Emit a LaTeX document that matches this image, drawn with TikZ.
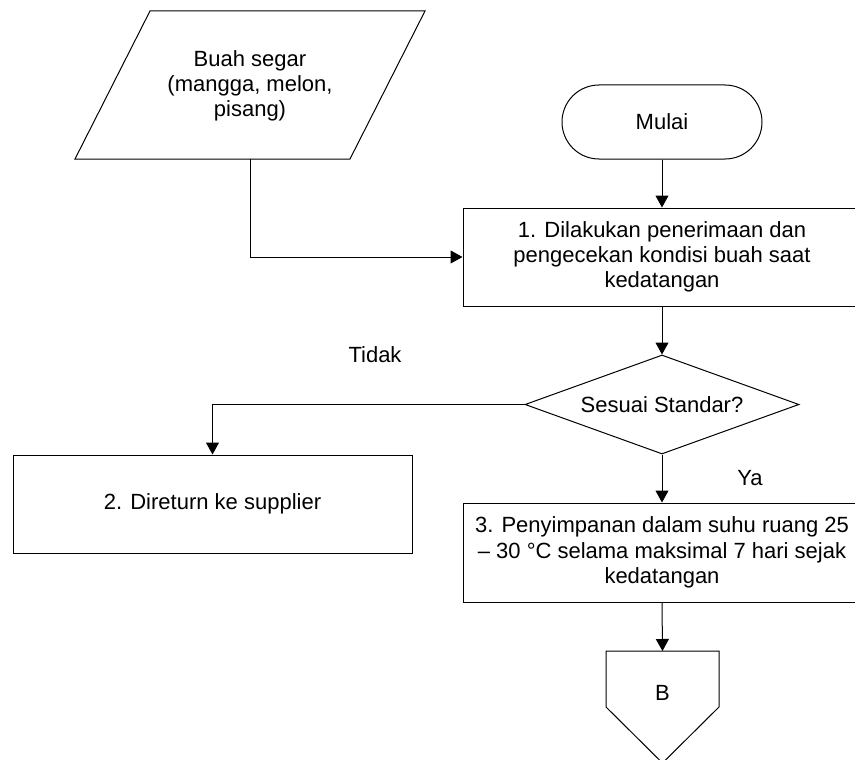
\documentclass[tikz,border=0pt]{standalone}
\usepackage{fontspec}
\setmainfont{Liberation Sans}
\usetikzlibrary{arrows.meta,shapes.geometric}

\begin{document}
\begin{tikzpicture}[
  x=1pt, y=-1pt,
  line width=1pt,
  every node/.style={font=\fontsize{22}{25.3}\selectfont, align=center, inner sep=0pt},
  procbox/.style={draw, rectangle, minimum width=398pt, minimum height=98pt},
  termbox/.style={draw, rectangle, rounded corners=37pt, minimum width=200pt, minimum height=74pt},
  decbox/.style={draw, diamond, aspect=2.77, minimum width=274pt, minimum height=99pt},
  flow/.style={-{Triangle[length=12pt,width=13pt]}},
  lbl/.style={font=\fontsize{22}{25.3}\selectfont}
]
\useasboundingbox (0,0) rectangle (855,760);

% input: fresh fruit (parallelogram)
\draw (150,11) -- (425,11) -- (350,159) -- (75,159) -- cycle;
\node (buah) at (250,86) {Buah segar\\(mangga, melon,\\pisang)};
\coordinate (buahbot) at (250,159);

% start terminator
\node[termbox] (mulai) at (662,122) {Mulai};

% step 1
\node[procbox] (s1) at (662,257) {1. Dilakukan penerimaan dan\\pengecekan kondisi buah saat\\kedatangan};

% decision
\node[decbox] (dec) at (662,404.5) {Sesuai Standar?};

% step 2 (rejected)
\node[procbox, minimum width=399pt] (s2) at (212.5,504) {2. Direturn ke supplier};

% step 3 (accepted)
\node[procbox, minimum height=99pt] (s3) at (662,552.5) {3. Penyimpanan dalam suhu ruang 25\\– 30 °C selama maksimal 7 hari sejak\\kedatangan};

% off-page connector B
\draw (606,651) -- (719,651) -- (719,707) -- (662.5,763) -- (606,707) -- cycle;
\coordinate (btop) at (662.5,651);
\node (b) at (662.5,693) {B};

% connectors
\draw[flow] (buahbot) |- (s1.west);
\draw[flow] (mulai.south) -- (s1.north);
\draw[flow] (s1.south) -- (dec.north);
\draw[flow] (dec.west) -| (s2.north);
\draw[flow] (dec.south) -- (s3.north);
\draw[flow] (s3.south) -- (btop);

% branch labels
\node[lbl] (tidak) at (375,355) {Tidak};
\node[lbl] (ya) at (750,478) {Ya};
\end{tikzpicture}
\end{document}
